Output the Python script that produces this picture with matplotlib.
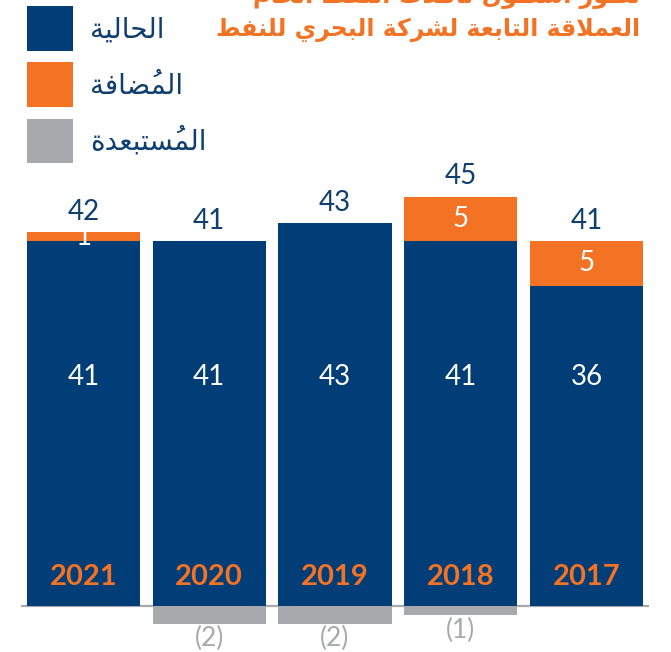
import matplotlib
matplotlib.use("Agg")
import matplotlib.pyplot as plt
import numpy as np

# ---------------- data ----------------
years = ["2021", "2020", "2019", "2018", "2017"]
current = [41, 41, 43, 41, 36]
added = [1, 0, 0, 5, 5]
removed = [0, -2, -2, -1, 0]
totals = [42, 41, 43, 45, 41]
legend_labels = ["الحالية", "المُضافة", "المُستبعدة"]
title_lines = ["تطور أسطول ناقلات النفط الخام", "العملاقة التابعة لشركة البحري للنفط"]

BLUE = "#013D76"
ORANGE = "#F37224"
GRAY = "#A7A9AC"
TXT_BLUE = "#0F3F6F"

# ---------------- minimal Arabic shaping ----------------
DUAL = {'\u0628': 0xFE8F, '\u062A': 0xFE95, '\u062B': 0xFE99, '\u062C': 0xFE9D,
        '\u062D': 0xFEA1, '\u062E': 0xFEA5, '\u0633': 0xFEB1, '\u0634': 0xFEB5,
        '\u0635': 0xFEB9, '\u0636': 0xFEBD, '\u0637': 0xFEC1, '\u0638': 0xFEC5,
        '\u0639': 0xFEC9, '\u063A': 0xFECD, '\u0641': 0xFED1, '\u0642': 0xFED5,
        '\u0643': 0xFED9, '\u0644': 0xFEDD, '\u0645': 0xFEE1, '\u0646': 0xFEE5,
        '\u0647': 0xFEE9, '\u064A': 0xFEF1}
RIGHT = {'\u0627': 0xFE8D, '\u0623': 0xFE83, '\u0625': 0xFE87, '\u0622': 0xFE81,
         '\u0629': 0xFE93, '\u062F': 0xFEA9, '\u0630': 0xFEAB, '\u0631': 0xFEAD,
         '\u0632': 0xFEAF, '\u0648': 0xFEED, '\u0649': 0xFEEF}
LAM_ALEF = {'\u0627': 0xFEFB, '\u0623': 0xFEF7, '\u0625': 0xFEF9, '\u0622': 0xFEF5}


def is_mark(c):
    return '\u064B' <= c <= '\u0652'


def shape(s):
    units = []
    for c in s:
        if is_mark(c) and units:
            units[-1][1].append(c)
        else:
            units.append([c, []])
    merged = []
    i = 0
    while i < len(units):
        c, m = units[i]
        if c == '\u0644' and i + 1 < len(units) and units[i + 1][0] in LAM_ALEF:
            merged.append(['LA' + units[i + 1][0], m + units[i + 1][1]])
            i += 2
        else:
            merged.append([c, list(m)])
            i += 1

    def is_letter(c):
        return c is not None and (c in DUAL or c in RIGHT or c.startswith('LA'))

    glyphs = []
    for i, (c, m) in enumerate(merged):
        prev = merged[i - 1][0] if i > 0 else None
        nxt = merged[i + 1][0] if i + 1 < len(merged) else None
        jp = prev is not None and prev in DUAL and is_letter(c)
        jn = c in DUAL and is_letter(nxt)
        if c.startswith('LA'):
            base = LAM_ALEF[c[2:]]
            g = chr(base + (1 if jp else 0))
        elif c in DUAL:
            base = DUAL[c]
            if jp and jn:
                g = chr(base + 3)
            elif jp:
                g = chr(base + 1)
            elif jn:
                g = chr(base + 2)
            else:
                g = chr(base)
        elif c in RIGHT:
            g = chr(RIGHT[c] + (1 if jp else 0))
        else:
            g = c
        # mark placed before its base in the visual (left-to-right) string
        glyphs.append(''.join(m) + g)
    return ''.join(reversed(glyphs))


# ---------------- figure ----------------
W, H = 671, 652
fig = plt.figure(figsize=(W / 100, H / 100), dpi=100)
ax = fig.add_axes([0, 0, 1, 1])
ax.set_axis_off()

px_per_unit = 8.9
base_px = 46
ax.set_ylim(-base_px / px_per_unit, (H - base_px) / px_per_unit)
pitch = 125.75
x0_px = 83.5
ax.set_xlim(-x0_px / pitch, (W - x0_px) / pitch)

x = np.arange(len(years))
width = 0.9
cur = np.array(current)
add = np.array(added)
rem = np.array(removed)

b1 = ax.bar(x, cur, width=width, color=BLUE, zorder=2, linewidth=0)
b2 = ax.bar(x, add, width=width, bottom=cur, color=ORANGE, zorder=2, linewidth=0)
b3 = ax.bar(x, rem, width=width, color=GRAY, zorder=2, linewidth=0)

ax.plot([x[0] - width / 2 - 0.05, x[-1] + width / 2 + 0.05], [0, 0],
        color=GRAY, lw=1.6, zorder=1, solid_capstyle='butt')

num_font = "Lato"
for i in range(len(years)):
    ax.text(x[i], 3.3, years[i], ha='center', va='center', color=ORANGE,
            fontsize=21, fontweight='bold', family=num_font, zorder=3)
    ax.text(x[i], 25.7, str(current[i]), ha='center', va='center', color='white',
            fontsize=20, family=num_font, zorder=3)
    if added[i] != 0:
        ax.text(x[i], cur[i] + add[i] / 2, str(added[i]), ha='center', va='center',
                color='white', fontsize=20, family=num_font, zorder=3)
    top = cur[i] + add[i]
    ax.text(x[i], top + 2.3, str(totals[i]), ha='center', va='center', color=TXT_BLUE,
            fontsize=20, family=num_font, zorder=3)
    if removed[i] != 0:
        ax.text(x[i], rem[i] - 1.7, "(%d)" % abs(removed[i]), ha='center', va='center',
                color=GRAY, fontsize=19, family=num_font, zorder=3)

# legend
fs = 20
fs_px = fs * 100 / 72
leg = ax.legend([b1, b2, b3], [shape(t) for t in legend_labels],
                loc='upper left', bbox_to_anchor=(27 / W, 1 - 6 / H),
                bbox_transform=fig.transFigure, frameon=False,
                prop=dict(family='DejaVu Sans', size=fs),
                handlelength=46 / fs_px, handleheight=2.1,
                labelspacing=0.42, handletextpad=0.6, borderpad=0, borderaxespad=0)
for t in leg.get_texts():
    t.set_color(TXT_BLUE)

# title (first line clipped by the top edge as in the reference)
fig.text(640 / W, 1 + 6 / H, shape(title_lines[0]), ha='right', va='center',
         color=ORANGE, fontsize=17, fontweight='bold', family='DejaVu Sans')
fig.text(640 / W, 1 - 30 / H, shape(title_lines[1]), ha='right', va='center',
         color=ORANGE, fontsize=17, fontweight='bold', family='DejaVu Sans')

fig.savefig("out.png", dpi=100)
